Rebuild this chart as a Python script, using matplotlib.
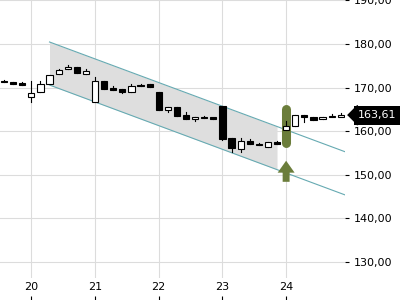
import numpy as np
import matplotlib
matplotlib.use("Agg")
import matplotlib.pyplot as plt
from matplotlib.patches import Rectangle, FancyArrowPatch
import matplotlib.transforms as mtransforms

# Часовые свечи (7 в день), день 19 — только 3 последние
opens = [171.5, 171.4, 170.9, 167.8, 168.9, 170.8, 173.1, 174.3, 174.8, 173.1,
         166.8, 171.6, 169.9, 169.7, 168.9, 170.5, 170.8, 168.9, 164.8, 165.5,
         163.8, 162.7, 163.2, 163.1, 165.8, 158.5, 155.9, 157.8, 157.1, 156.45,
         157.6, 160.3, 161.2, 163.7, 163.2, 162.7, 163.4, 163.45]
highs = [171.8, 171.4, 171.3, 171.5, 171.5, 172.9, 174.2, 175.2, 174.8, 174.2,
         172.5, 171.6, 170.4, 169.7, 170.8, 170.8, 170.8, 168.9, 165.5, 165.5,
         164.3, 163.2, 163.5, 163.1, 165.8, 158.5, 158.5, 158.2, 157.4, 157.5,
         157.8, 162.4, 163.7, 163.7, 163.2, 163.2, 163.9, 164.2]
lows = [171.3, 170.8, 170.7, 166.7, 168.9, 170.8, 173.1, 174.3, 173.3, 173.1,
        166.8, 169.6, 169.4, 168.7, 168.9, 170.4, 170.1, 164.8, 164.3, 163.6,
        162.7, 162.35, 163.1, 162.9, 158.0, 155.3, 155.2, 157.1, 156.8, 156.45,
        157.0, 160.3, 161.2, 162.05, 162.65, 162.7, 163.4, 163.45]
closes = [171.3, 170.8, 170.7, 168.7, 170.8, 172.9, 174.0, 174.8, 173.3, 173.8,
          171.6, 169.6, 169.4, 169.1, 170.4, 170.45, 170.1, 164.8, 165.5, 163.6,
          162.7, 163.2, 163.1, 162.9, 158.3, 156.2, 157.8, 157.1, 156.8, 157.5,
          157.0, 161.1, 163.7, 163.2, 162.65, 163.2, 163.45, 163.6]
last_price = 163.61

day_ticks = [3, 10, 17, 24, 31]
day_labels = ["20", "21", "22", "23", "24"]
y_ticks = [130, 140, 150, 160, 170, 180, 190]

# Канал тренда: начало и конец верхней/нижней линии
chan_x = [5, 37.47]
chan_upper = [180.47, 155.3]
chan_lower = [170.6, 145.4]
fill_end = 30

signal_idx = 31
signal_top, signal_bottom = 166.25, 156.15
arrow_tail, arrow_tip = 148.4, 153.24

grid_col = "#dcdcdc"
chan_col = "#66aab2"
green = "#6b7d3b"

fig = plt.figure(figsize=(4, 3), dpi=100)
ax = fig.add_axes([0, 1 - 278 / 300, 345 / 400, 278 / 300])

ax.set_xlim(-0.44, 37.47)
ax.set_ylim(126.34, 190.1)

# сетка
for t in y_ticks:
    ax.axhline(t, color=grid_col, lw=0.8, zorder=0)
for t in day_ticks:
    ax.axvline(t, color=grid_col, lw=0.8, zorder=0)

# канал
fx = np.array([chan_x[0], fill_end])
fu = np.interp(fx, chan_x, chan_upper)
fl = np.interp(fx, chan_x, chan_lower)
ax.fill_between(fx, fl, fu, color="#dedede", lw=0, zorder=1)
ax.plot(chan_x, chan_upper, color=chan_col, lw=0.8, zorder=2)
ax.plot(chan_x, chan_lower, color=chan_col, lw=0.8, zorder=2)

# сигнал
ax.plot([signal_idx, signal_idx], [signal_bottom + 1.05, signal_top - 1.05],
        color=green, lw=6.5, solid_capstyle="round", zorder=3)
arr = FancyArrowPatch((signal_idx, arrow_tail), (signal_idx, arrow_tip),
                      arrowstyle="simple,head_width=1.22,head_length=0.86,tail_width=0.5",
                      mutation_scale=10, color=green, lw=0, shrinkA=0, shrinkB=0, zorder=3)
ax.add_patch(arr)

# свечи
w = 0.68
for i, (o, h, l, c) in enumerate(zip(opens, highs, lows, closes)):
    up = c >= o
    lo_b, hi_b = min(o, c), max(o, c)
    if hi_b - lo_b < 0.35:
        mid = (hi_b + lo_b) / 2
        lo_b, hi_b = mid - 0.175, mid + 0.175
    ax.plot([i, i], [l, h], color="black", lw=0.8, zorder=4)
    ax.add_patch(Rectangle((i - w / 2, lo_b), w, hi_b - lo_b,
                           facecolor="white" if up else "black",
                           edgecolor="black", lw=0.8, zorder=5))

for s in ax.spines.values():
    s.set_visible(False)

ax.yaxis.tick_right()
ax.set_yticks(y_ticks)
ax.set_yticklabels([f"{t:.2f}".replace(".", ",") for t in y_ticks])
ax.tick_params(axis="y", length=3, width=0.8, pad=3, labelsize=8, colors="black")

ax.set_xticks(day_ticks)
ax.set_xticklabels(day_labels)
ax.tick_params(axis="x", length=0, pad=3, labelsize=8)

sec = ax.secondary_xaxis(-0.066)
sec.set_xticks(day_ticks)
sec.set_xticklabels([])
sec.tick_params(length=3, width=0.8)
sec.spines["bottom"].set_visible(False)

# метка последней цены
trans = mtransforms.blended_transform_factory(ax.transAxes, ax.transData)
ax.plot([1.021], [last_price], marker=[(-0.5, 0), (0.5, 1), (0.5, -1)], markersize=14,
        color="black", transform=trans, clip_on=False, zorder=6)
ax.text(1.038, last_price, f"{last_price:.2f}".replace(".", ","), transform=trans,
        ha="left", va="center", fontsize=8, color="white", zorder=7,
        bbox=dict(boxstyle="square,pad=0.4", fc="black", ec="none"))

fig.savefig("out.png", dpi=100)
